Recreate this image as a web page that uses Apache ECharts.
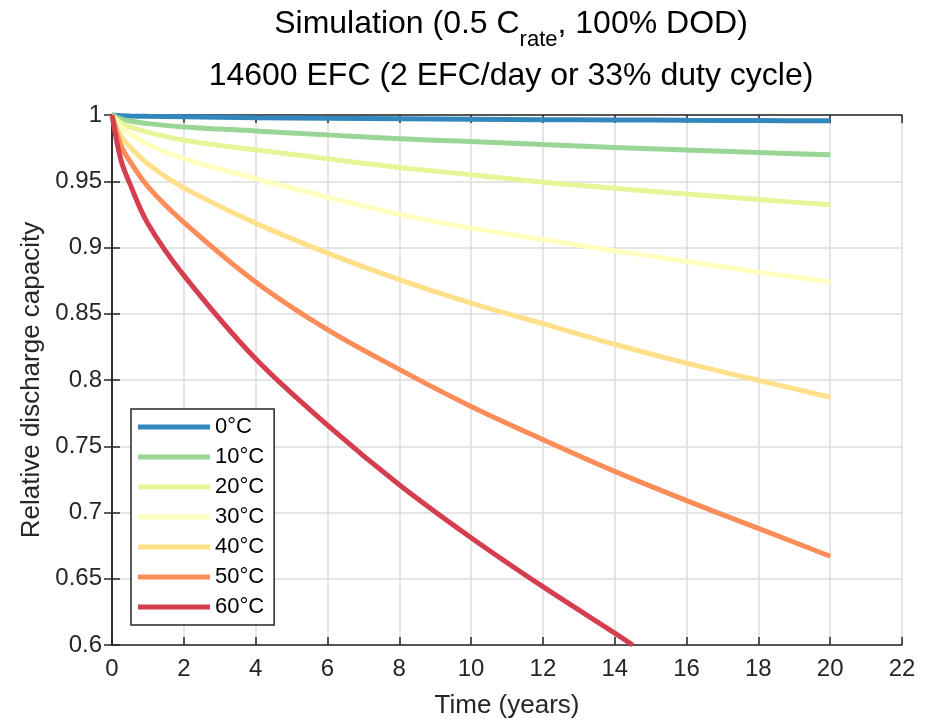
<!DOCTYPE html>
<html>
<head>
<meta charset="utf-8">
<script src="https://cdn.jsdelivr.net/npm/echarts@6/dist/echarts.min.js"></script>
<style>
  html, body { margin: 0; padding: 0; background: #fff; }
  #chart { width: 937px; height: 724px; }
</style>
</head>
<body>
<div id="chart"></div>
<script>
// Simulated capacity fade over time at different cell temperatures
const years = [0, 0.25, 0.5, 1, 2, 4, 6, 8, 10, 12, 14, 16, 18, 20];
const redYears = [0, 0.25, 0.5, 1, 2, 4, 6, 8, 10, 12, 14, 14.5];

const cap0C  = [1, 0.9995, 0.9993, 0.999, 0.9986, 0.998, 0.9976, 0.9972, 0.9968, 0.9965, 0.9963, 0.996, 0.9958, 0.9956];
const cap10C = [1, 0.997, 0.9955, 0.9935, 0.991, 0.988, 0.985, 0.982, 0.980, 0.9777, 0.9755, 0.9735, 0.9717, 0.970];
const cap20C = [1, 0.994, 0.991, 0.987, 0.981, 0.9737, 0.967, 0.9604, 0.9549, 0.9493, 0.9448, 0.9403, 0.9362, 0.9322];
const cap30C = [1, 0.991, 0.986, 0.978, 0.967, 0.952, 0.938, 0.925, 0.9146, 0.906, 0.8975, 0.8895, 0.8814, 0.8739];
const cap40C = [1, 0.984, 0.976, 0.963, 0.945, 0.9184, 0.8958, 0.8757, 0.858, 0.8425, 0.827, 0.8127, 0.7998, 0.787];
const cap50C = [1, 0.977, 0.965, 0.946, 0.919, 0.874, 0.838, 0.808, 0.780, 0.755, 0.731, 0.709, 0.688, 0.667];
const cap60C = [1, 0.966, 0.948, 0.918, 0.879, 0.816, 0.766, 0.721, 0.681, 0.644, 0.609, 0.6];

const seriesNames = ['0°C', '10°C', '20°C', '30°C', '40°C', '50°C', '60°C'];
const seriesColors = ['#3288bd', '#99d594', '#e6f598', '#ffffbf', '#fee08b', '#fc8d59', '#d53e4f'];
const seriesX = [years, years, years, years, years, years, redYears];
const seriesY = [cap0C, cap10C, cap20C, cap30C, cap40C, cap50C, cap60C];

const xTicks = { min: 0, max: 22, interval: 2 };
const yTicks = { min: 0.6, max: 1, interval: 0.05 };

const FONT = "'Liberation Sans', Arial, Helvetica, sans-serif";
const INK = '#262626';

const chart = echarts.init(document.getElementById('chart'), null, { renderer: 'canvas' });

const series = seriesNames.map((name, k) => ({
  name: name,
  type: 'line',
  data: seriesX[k].map((t, i) => [t, seriesY[k][i]]),
  showSymbol: false,
  smooth: 0.35,
  clip: false,
  lineStyle: { color: seriesColors[k], width: 5 },
  itemStyle: { color: seriesColors[k] },
  z: 3 + k
}));

const boxAxisX = {
  type: 'value', min: xTicks.min, max: xTicks.max, interval: xTicks.interval,
  axisLine: { show: true, lineStyle: { color: INK, width: 1.5 } },
  axisTick: { show: true, inside: true, length: 8, lineStyle: { color: INK, width: 1.5 } },
  splitLine: { show: false }
};
const boxAxisY = {
  type: 'value', min: yTicks.min, max: yTicks.max, interval: yTicks.interval,
  axisLine: { show: true, lineStyle: { color: INK, width: 1.5 } },
  axisTick: { show: true, inside: true, length: 8, lineStyle: { color: INK, width: 1.5 } },
  splitLine: { show: false }
};

chart.setOption({
  animation: false,
  backgroundColor: '#ffffff',
  textStyle: { fontFamily: FONT },
  title: {
    left: 506,
    top: 3,
    textAlign: 'center',
    text: '{a|Simulation (0.5 C}{s|rate}{a|, 100% DOD)}\n{b|14600 EFC (2 EFC/day or 33% duty cycle)}',
    textStyle: {
      fontWeight: 'normal',
      rich: {
        a: { fontSize: 32, fontWeight: 'normal', fontFamily: FONT, color: '#000', lineHeight: 37, verticalAlign: 'top' },
        s: { fontSize: 22, fontWeight: 'normal', fontFamily: FONT, color: '#000', lineHeight: 23, padding: [21, 0, 0, 0], verticalAlign: 'top' },
        b: { fontSize: 32, fontWeight: 'normal', fontFamily: FONT, color: '#000', lineHeight: 37, padding: [15, 0, 0, 0], verticalAlign: 'top' }
      }
    }
  },
  grid: { left: 112, right: 35, top: 115, bottom: 79, containLabel: false },
  legend: {
    data: seriesNames,
    orient: 'vertical',
    left: 131,
    top: 409,
    icon: 'rect',
    itemWidth: 72,
    itemHeight: 5,
    itemGap: 8,
    padding: [7, 10, 7, 7],
    backgroundColor: '#ffffff',
    borderColor: INK,
    borderWidth: 1.5,
    borderRadius: 0,
    textStyle: { fontSize: 22, lineHeight: 22, color: '#000', fontFamily: FONT }
  },
  xAxis: [
    {
      type: 'value', min: xTicks.min, max: xTicks.max, interval: xTicks.interval,
      position: 'bottom',
      name: 'Time (years)',
      nameLocation: 'middle',
      nameGap: 48,
      nameTextStyle: { fontSize: 26, color: INK, fontFamily: FONT },
      axisLine: { show: true, onZero: false, lineStyle: { color: INK, width: 1.5 } },
      axisTick: { show: true, inside: true, length: 8, lineStyle: { color: INK, width: 1.5 } },
      axisLabel: { fontSize: 24, color: INK, margin: 12, fontFamily: FONT },
      splitLine: { show: true, lineStyle: { color: '#dcdcdc', width: 1.5 } }
    },
    Object.assign({ position: 'top', axisLabel: { show: false } }, boxAxisX)
  ],
  yAxis: [
    {
      type: 'value', min: yTicks.min, max: yTicks.max, interval: yTicks.interval,
      position: 'left',
      name: 'Relative discharge capacity',
      nameLocation: 'middle',
      nameGap: 66,
      nameTextStyle: { fontSize: 26, color: INK, fontFamily: FONT },
      axisLine: { show: true, onZero: false, lineStyle: { color: INK, width: 1.5 } },
      axisTick: { show: true, inside: true, length: 8, lineStyle: { color: INK, width: 1.5 } },
      axisLabel: {
        fontSize: 24, color: INK, margin: 10, fontFamily: FONT,
        formatter: v => String(+v.toFixed(2))
      },
      splitLine: { show: true, lineStyle: { color: '#dcdcdc', width: 1.5 } }
    },
    Object.assign({ position: 'right', axisLabel: { show: false } }, boxAxisY)
  ],
  series: series
});
</script>
</body>
</html>
